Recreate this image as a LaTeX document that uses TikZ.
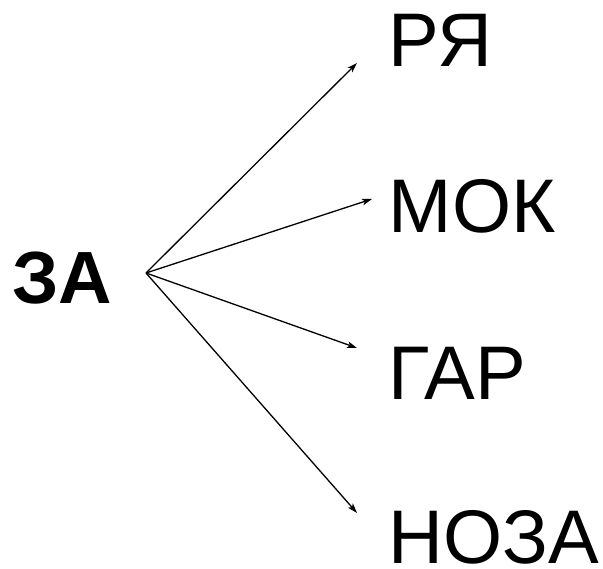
\documentclass[tikz,border=0pt]{standalone}
\usepackage{fontspec}
\setmainfont{Liberation Sans}
\usetikzlibrary{arrows.meta}
\begin{document}
\begin{tikzpicture}[x=1pt,y=1pt,
  word/.style={anchor=base west,inner sep=0pt,font=\fontsize{76}{80}\selectfont},
  root/.style={anchor=base west,inner sep=0pt,font=\fontsize{74}{78}\selectfont\bfseries},
  link/.style={line width=1.3pt,-{Stealth[length=10pt,width=6.5pt,inset=2.5pt]}}]
\useasboundingbox (0,0) rectangle (603,569);
\node[root] (za) at (12,265) {ЗА};
\node[word] (ra) at (388,502) {РЯ};
\node[word] (mok) at (388.5,336) {МОК};
\node[word] (gar) at (388,169) {ГАР};
\node[word] (noza) at (388,5) {НОЗА};
\coordinate (o) at (146,296);
\coordinate (e1) at (357,506);
\coordinate (e2) at (372,370);
\coordinate (e3) at (357,221);
\coordinate (e4) at (357,56);
\draw[link] (o) -- (e1);
\draw[link] (o) -- (e2);
\draw[link] (o) -- (e3);
\draw[link] (o) -- (e4);
\end{tikzpicture}
\end{document}
